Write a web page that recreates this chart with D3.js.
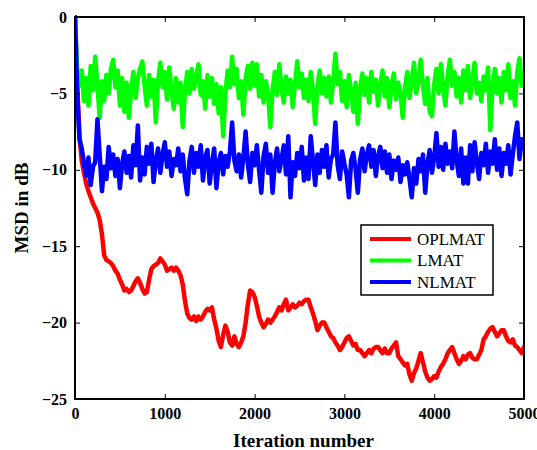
<!DOCTYPE html>
<html>
<head>
<meta charset="utf-8">
<script src="https://cdn.jsdelivr.net/npm/d3@7"></script>
<style>
  html, body { margin: 0; padding: 0; background: #fff; }
  svg { display: block; }
  .tick text { font-family: "Liberation Serif", "Times New Roman", serif; font-weight: bold; font-size: 16px; fill: #000; }
</style>
</head>
<body>
<svg id="chart" width="537" height="450"></svg>
<script>
// ---- data ----
const iterStep = 25;               // sample spacing of the series (iterations)
const xTicks = [0, 1000, 2000, 3000, 4000, 5000];
const yTicks = [-25, -20, -15, -10, -5, 0];
const seriesNames = ["OPLMAT", "LMAT", "NLMAT"];
const seriesColors = ["#ff0000", "#00ff00", "#0000ff"];

const oplmat = [
  0, -4.5, -7.8, -9.4, -10.2, -10.9, -11.4, -11.8, -12.2, -12.5,
  -12.8, -13.3, -14.2, -15.6, -15.9, -16.0, -16.1, -16.3, -16.6, -16.8,
  -17.2, -17.5, -17.9, -17.8, -18.0, -17.9, -17.6, -17.3, -17.1, -17.4,
  -17.8, -18.1, -18.0, -17.2, -16.5, -16.3, -16.2, -16.1, -15.8, -16.0,
  -16.2, -16.6, -16.5, -16.4, -16.6, -16.4, -16.6, -16.9, -17.5, -18.6,
  -19.4, -19.7, -19.8, -19.6, -19.9, -19.6, -19.8, -19.6, -19.3, -19.1,
  -19.2, -19.0, -19.8, -20.4, -21.2, -21.6, -20.8, -20.2, -20.6, -21.3,
  -21.5, -20.9, -21.4, -21.6, -21.3, -20.9, -20.0, -18.8, -17.9, -18.0,
  -18.3, -18.9, -19.6, -20.0, -20.3, -20.1, -19.8, -20.0, -19.8, -19.6,
  -19.3, -19.0, -19.2, -18.8, -18.5, -19.2, -19.0, -18.8, -19.0, -18.9,
  -18.7, -18.8, -18.6, -18.5, -18.5, -19.0, -19.4, -19.9, -20.5, -20.2,
  -20.0, -20.0, -20.3, -20.6, -20.9, -21.0, -21.3, -21.5, -21.8, -21.6,
  -21.3, -21.0, -20.9, -21.2, -21.5, -21.4, -21.8, -21.8, -22.0, -22.2,
  -22.0, -21.8, -22.0, -21.7, -21.6, -21.6, -21.8, -22.0, -21.7, -22.0,
  -22.0, -21.7, -21.5, -21.3, -22.2, -22.4, -22.6, -22.8, -22.7, -23.4,
  -23.8, -23.3, -23.0, -22.5, -22.0, -22.6, -23.2, -23.6, -23.8, -23.7,
  -23.5, -23.6, -23.2, -22.9, -22.7, -22.4, -22.0, -21.8, -21.6, -22.0,
  -22.4, -22.7, -22.5, -22.2, -22.4, -22.1, -22.0, -22.3, -22.4, -22.4,
  -22.1, -21.8, -21.1, -20.9, -20.6, -20.4, -20.3, -20.6, -20.9, -20.7,
  -20.5, -20.5, -20.9, -21.2, -21.3, -21.1, -21.5, -21.6, -21.8, -22.0,
  -21.6
];

const lmat = [
  0, -3.5, -4.5, -3.5, -5.5, -4.0, -5.8, -3.2, -4.8, -2.6,
  -4.5, -6.6, -4.2, -5.5, -3.8, -5.0, -3.4, -2.8, -4.6, -3.5,
  -5.8, -4.0, -6.2, -4.3, -6.6, -4.8, -3.6, -5.3, -4.0, -3.4,
  -2.9, -4.5, -5.8, -3.8, -5.2, -4.1, -6.9, -4.2, -3.0, -4.6,
  -3.6, -5.4, -3.3, -4.8, -6.0, -4.0, -5.6, -4.3, -7.2, -4.9,
  -3.6, -5.0, -3.4, -4.7, -3.9, -3.1, -5.1, -4.2, -6.0, -3.8,
  -5.2, -4.0, -5.7, -4.4, -6.3, -4.6, -7.8, -5.0, -3.5, -4.6,
  -2.6, -4.4, -3.4, -5.3, -4.2, -6.4, -4.0, -3.2, -4.7, -3.0,
  -4.5, -3.1, -5.2, -3.8, -5.6, -4.2, -5.0, -7.2, -4.8, -3.6,
  -5.1, -3.1, -4.6, -5.6, -3.9, -5.0, -4.1, -5.9, -4.4, -2.9,
  -4.6, -3.7, -5.3, -4.1, -5.5, -3.6, -4.8, -7.0, -4.5, -3.5,
  -5.0, -4.0, -5.2, -3.9, -5.6, -4.2, -2.4, -4.4, -3.6, -5.5,
  -4.2, -5.9, -3.8, -4.9, -6.2, -4.3, -7.0, -4.7, -3.7, -5.1,
  -4.0, -5.6, -3.6, -4.9, -4.1, -5.8, -4.4, -3.5, -5.2, -4.0,
  -5.9, -4.5, -3.7, -5.4, -4.3, -5.0, -6.6, -4.6, -3.6, -5.3,
  -4.1, -3.0, -5.0, -4.2, -2.8, -4.5, -5.7, -4.0, -6.2, -6.5,
  -4.4, -3.4, -5.0, -3.1, -4.6, -5.8, -3.8, -2.8, -4.5, -3.6,
  -5.2, -4.0, -5.6, -3.5, -4.8, -3.2, -5.3, -4.1, -3.0, -5.0,
  -4.3, -5.5, -3.9, -4.8, -3.3, -7.4, -4.6, -3.4, -5.0, -4.0,
  -5.6, -3.6, -4.8, -3.1, -5.3, -4.2, -5.8, -3.6, -2.7, -4.5,
  -3.6
];

const nlmat = [
  0, -5.0, -8.0, -8.6, -9.6, -10.4, -9.2, -11.0, -9.8, -9.5,
  -6.7, -9.0, -11.4, -9.8, -10.6, -8.5, -9.9, -9.0, -10.4, -9.3,
  -11.2, -9.6, -8.8, -10.2, -9.1, -10.5, -8.4, -9.7, -7.1, -10.7,
  -9.2, -10.3, -8.5, -9.6, -8.3, -10.8, -9.4, -8.6, -10.2, -9.0,
  -8.2, -9.8, -8.8, -10.4, -9.3, -9.7, -8.6, -10.1, -9.0, -10.6,
  -11.6, -9.4, -8.5, -10.2, -8.9, -9.8, -8.4, -10.7, -9.2, -8.7,
  -10.9, -9.6, -8.6, -11.2, -9.5, -8.9, -10.3, -9.1, -9.8, -8.8,
  -6.9, -9.4, -10.1, -9.0, -10.5, -9.2, -7.5, -9.6, -10.8, -8.9,
  -9.7, -8.4, -10.0, -11.5, -9.1, -8.3, -10.2, -9.0, -11.5, -9.6,
  -8.6, -10.1, -9.3, -8.4, -10.3, -7.8, -11.8, -9.5, -10.4, -8.9,
  -9.9, -8.5, -10.7, -9.2, -10.6, -7.8, -9.4, -11.0, -9.0, -10.2,
  -8.7, -9.8, -8.4, -10.5, -9.3, -9.0, -6.9, -9.7, -10.6, -8.8,
  -9.6, -10.3, -11.8, -9.4, -8.9, -10.0, -11.5, -9.3, -8.6, -10.1,
  -9.0, -8.4, -9.8, -8.7, -10.4, -9.1, -8.5, -9.9, -8.8, -10.2,
  -9.0, -10.6, -9.4, -10.0, -9.2, -10.8, -9.7, -10.3, -9.5, -10.6,
  -11.8, -9.9, -10.9, -9.3, -10.1, -9.0, -11.5, -9.6, -8.7, -10.2,
  -9.2, -7.6, -9.8, -8.5, -10.0, -8.3, -9.6, -8.8, -9.9, -7.5,
  -9.4, -10.4, -8.6, -10.9, -9.2, -10.9, -8.4, -10.1, -8.2, -9.5,
  -10.6, -8.9, -9.7, -8.3, -10.2, -8.8, -9.6, -8.0, -10.0, -8.6,
  -10.4, -8.9, -9.6, -8.4, -10.3, -9.0, -7.8, -6.9, -9.3, -8.0,
  -8.6
];

const seriesValues = [oplmat, lmat, nlmat];

// ---- layout ----
const W = 537, H = 450;
const plot = { left: 75, right: 524, top: 17, bottom: 399 };
const svg = d3.select("#chart");

const x = d3.scaleLinear().domain([0, 5000]).range([plot.left, plot.right]);
const y = d3.scaleLinear().domain([-25, 0]).range([plot.bottom, plot.top]);

svg.append("defs").append("clipPath").attr("id", "clip")
  .append("rect")
  .attr("x", plot.left).attr("y", plot.top - 2)
  .attr("width", plot.right - plot.left).attr("height", plot.bottom - plot.top + 2);

// series lines
const line = d3.line()
  .x((d, i) => x(i * iterStep))
  .y(d => y(d));

const gLines = svg.append("g").attr("clip-path", "url(#clip)");
seriesValues.forEach((vals, k) => {
  gLines.append("path")
    .datum(vals)
    .attr("fill", "none")
    .attr("stroke", seriesColors[k])
    .attr("stroke-width", 4.5)
    .attr("stroke-linejoin", "round")
    .attr("stroke-linecap", "round")
    .attr("d", line);
});

// axes (ticks pointing inward, box frame)
const tickLen = 5;
const bottomAxis = d3.axisBottom(x).tickValues(xTicks).tickFormat(d3.format("d"))
  .tickSizeInner(-tickLen).tickSizeOuter(0).tickPadding(9);
const gb = svg.append("g").attr("transform", `translate(0,${plot.bottom})`).call(bottomAxis);
gb.select(".domain").remove();

const topAxis = d3.axisTop(x).tickValues(xTicks).tickFormat("")
  .tickSizeInner(-tickLen).tickSizeOuter(0);
const gt = svg.append("g").attr("transform", `translate(0,${plot.top})`).call(topAxis);
gt.select(".domain").remove();

const leftAxis = d3.axisLeft(y).tickValues(yTicks).tickFormat(d3.format("d"))
  .tickSizeInner(-tickLen).tickSizeOuter(0).tickPadding(8);
const gl = svg.append("g").attr("transform", `translate(${plot.left},0)`).call(leftAxis);
gl.select(".domain").remove();

const rightAxis = d3.axisRight(y).tickValues(yTicks).tickFormat("")
  .tickSizeInner(-tickLen).tickSizeOuter(0);
const gr = svg.append("g").attr("transform", `translate(${plot.right},0)`).call(rightAxis);
gr.select(".domain").remove();

svg.selectAll(".tick line").attr("stroke", "#000").attr("stroke-width", 1);

// frame
svg.append("rect")
  .attr("x", plot.left).attr("y", plot.top)
  .attr("width", plot.right - plot.left).attr("height", plot.bottom - plot.top)
  .attr("fill", "none").attr("stroke", "#000").attr("stroke-width", 2);

// axis titles
svg.append("text")
  .attr("x", (plot.left + plot.right) / 2 + 4).attr("y", 447)
  .attr("text-anchor", "middle")
  .style("font-family", '"Liberation Serif", "Times New Roman", serif')
  .style("font-weight", "bold").style("font-size", "19px")
  .text("Iteration number");

svg.append("text")
  .attr("transform", `translate(28,${(plot.top + plot.bottom) / 2}) rotate(-90)`)
  .attr("text-anchor", "middle")
  .style("font-family", '"Liberation Serif", "Times New Roman", serif')
  .style("font-weight", "bold").style("font-size", "19px")
  .text("MSD in dB");

// legend
const leg = { x: 361, y: 225, w: 132, h: 70 };
const gLeg = svg.append("g");
gLeg.append("rect")
  .attr("x", leg.x).attr("y", leg.y).attr("width", leg.w).attr("height", leg.h)
  .attr("fill", "#fff").attr("stroke", "#000").attr("stroke-width", 1.5);
seriesNames.forEach((name, k) => {
  const yy = leg.y + 14 + k * 21.5;
  gLeg.append("line")
    .attr("x1", leg.x + 9).attr("x2", leg.x + 50)
    .attr("y1", yy).attr("y2", yy)
    .attr("stroke", seriesColors[k]).attr("stroke-width", 4);
  gLeg.append("text")
    .attr("x", leg.x + 56).attr("y", yy)
    .attr("dy", "0.35em")
    .style("font-family", '"Liberation Serif", "Times New Roman", serif')
    .style("font-size", "17px")
    .text(name);
});
</script>
</body>
</html>
